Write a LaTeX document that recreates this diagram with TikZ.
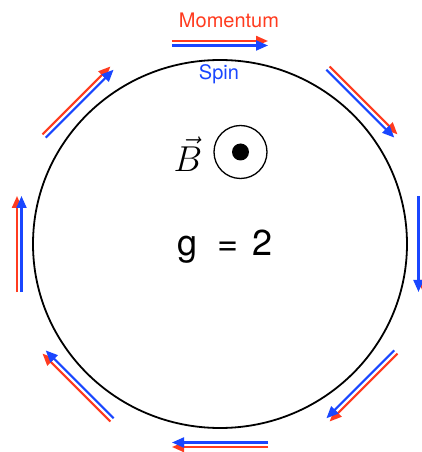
\RequirePackage{fix-cm}
\documentclass[tikz,border=0pt]{standalone}
\usepackage{fontspec}
\setsansfont{TeX Gyre Heros}
\usetikzlibrary{arrows.meta,calc}
\definecolor{momred}{RGB}{255,59,31}
\definecolor{spinblue}{RGB}{25,70,255}
\begin{document}
\begin{tikzpicture}[x=1pt,y=1pt,
  vecarrow/.style={line width=2.1pt,-{Triangle[length=12pt,width=10pt]}},
  mom/.style={vecarrow,draw=momred,fill=momred},
  spinarrow/.style={vecarrow,draw=spinblue,fill=spinblue},
  lbl/.style={font=\sffamily\fontsize{20}{24}\selectfont,anchor=base}]
\useasboundingbox (-220,-208) rectangle (202,244);
\draw[line width=1.8pt] (0,0) ellipse [x radius=187, y radius=184];
\foreach \a [count=\i] in {90,45,0,-45,-90,-135,-180,-225} {
  \coordinate (ms\i) at ($(\a:203)+(\a+90:48)$);
  \coordinate (me\i) at ($(\a:203)+(\a-90:48)$);
  \coordinate (ss\i) at ($(\a:198.5)+(\a+90:48)$);
  \coordinate (se\i) at ($(\a:198.5)+(\a-90:48)$);
  \draw[mom] (ms\i) -- (me\i);
  \draw[spinarrow] (ss\i) -- (se\i);
}
\node[lbl,text=momred] (momentum) at (9,216) {Momentum};
\node[lbl,text=spinblue] (spin) at (-1,164) {Spin};
\node[anchor=base,font=\fontsize{36}{40}\selectfont,inner sep=0pt] (bfield) at (-32,72) {$\vec{B}$};
\node[circle,draw,line width=1.3pt,minimum size=53pt,inner sep=0pt] (out) at (20.5,92) {};
\fill (out.center) circle (8.5);
\node[anchor=base,font=\sffamily\fontsize{36}{40}\selectfont] (gval) at (5,-12) {g\hspace{20pt}=\hspace{14pt}2};
\end{tikzpicture}
\end{document}
